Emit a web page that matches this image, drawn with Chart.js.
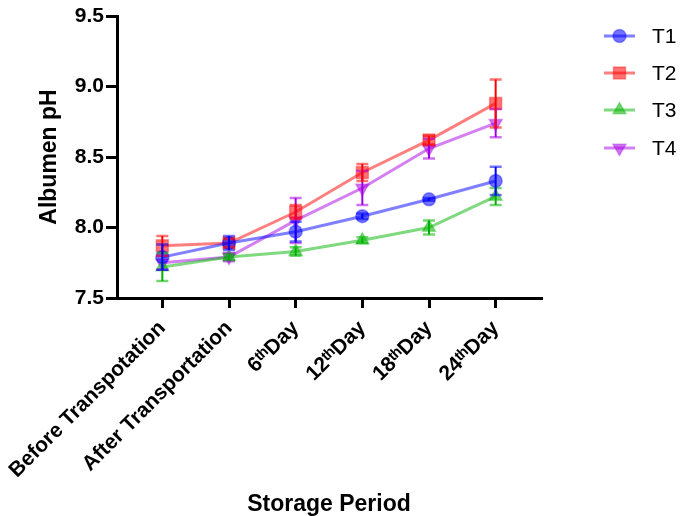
<!DOCTYPE html>
<html>
<head>
<meta charset="utf-8">
<script src="https://cdn.jsdelivr.net/npm/chart.js@4/dist/chart.umd.min.js"></script>
<style>
html,body{margin:0;padding:0;background:#fff;}
#wrap{width:686px;height:516px;}
</style>
</head>
<body>
<div id="wrap"><canvas id="c" width="686" height="516"></canvas></div>
<script>
const categories = ["Before Transpotation", "After Transportation", "6\u1d57\u02b0Day", "12\u1d57\u02b0Day", "18\u1d57\u02b0Day", "24\u1d57\u02b0Day"];
const seriesNames = ["T1", "T2", "T3", "T4"];
const t1 = [7.79, 7.89, 7.97, 8.08, 8.20, 8.33];
const t2 = [7.87, 7.89, 8.11, 8.39, 8.62, 8.88];
const t3 = [7.72, 7.79, 7.83, 7.91, 8.00, 8.22];
const t4 = [7.75, 7.79, 8.05, 8.28, 8.56, 8.74];
const t1Err = [0.09, 0.05, 0.07, 0.02, 0.01, 0.10];
const t2Err = [0.07, 0.03, 0.05, 0.06, 0.03, 0.17];
const t3Err = [0.10, 0.02, 0.03, 0.02, 0.05, 0.06];
const t4Err = [0.05, 0.03, 0.16, 0.12, 0.07, 0.10];
const yTicks = [7.5, 8.0, 8.5, 9.0, 9.5];

const FONT = "'Liberation Sans', Arial, 'DejaVu Sans', sans-serif";
const styles = [
  {rgb:[0,0,255], solid:'#0000ff', style:'circle', radius:6.5, rotation:0},
  {rgb:[255,0,0], solid:'#ff0000', style:'rect', radius:8.5, rotation:0},
  {rgb:[0,180,0], solid:'#00b000', style:'triangle', radius:7.5, rotation:0},
  {rgb:[170,0,230], solid:'#a000e0', style:'triangle', radius:7.5, rotation:180}
];
const values = [t1, t2, t3, t4];
const errors = [t1Err, t2Err, t3Err, t4Err];
const rgba = (c, a) => `rgba(${c[0]},${c[1]},${c[2]},${a})`;

const datasets = seriesNames.map((name, i) => ({
  label: name,
  data: values[i].map((v, j) => ({x: j, y: v})),
  borderColor: rgba(styles[i].rgb, 0.5),
  backgroundColor: rgba(styles[i].rgb, 0.5),
  borderWidth: 3,
  pointStyle: styles[i].style,
  pointRadius: styles[i].radius,
  pointRotation: styles[i].rotation,
  pointBackgroundColor: rgba(styles[i].rgb, 0.55),
  pointBorderColor: rgba(styles[i].rgb, 0.35),
  pointBorderWidth: 1.5,
  tension: 0,
  fill: false
}));

const errorBars = {
  id: 'errorBars',
  afterDatasetsDraw(chart) {
    const {ctx} = chart;
    const xs = chart.scales.x, ys = chart.scales.y;
    ctx.save();
    for (let i = seriesNames.length - 1; i >= 0; i--) {
      values[i].forEach((v, j) => {
        const e = errors[i][j];
        const px = xs.getPixelForValue(j);
        const top = ys.getPixelForValue(v + e);
        const bot = ys.getPixelForValue(v - e);
        ctx.strokeStyle = styles[i].solid;
        ctx.lineWidth = 2;
        ctx.beginPath(); ctx.moveTo(px, top); ctx.lineTo(px, bot); ctx.stroke();
        ctx.strokeStyle = rgba(styles[i].rgb, 0.55);
        ctx.lineWidth = 2.5;
        ctx.beginPath();
        ctx.moveTo(px - 6, top); ctx.lineTo(px + 6, top);
        ctx.moveTo(px - 6, bot); ctx.lineTo(px + 6, bot);
        ctx.stroke();
      });
    }
    ctx.restore();
  }
};

const customLegend = {
  id: 'customLegend',
  afterDraw(chart) {
    const {ctx} = chart;
    const rows = [36, 73, 110, 148];
    ctx.save();
    seriesNames.forEach((name, i) => {
      const y = rows[i];
      ctx.strokeStyle = rgba(styles[i].rgb, 0.5);
      ctx.lineWidth = 3;
      ctx.beginPath(); ctx.moveTo(604, y); ctx.lineTo(635, y); ctx.stroke();
      ctx.fillStyle = rgba(styles[i].rgb, 0.55);
      ctx.strokeStyle = rgba(styles[i].rgb, 0.35);
      ctx.lineWidth = 1.5;
      Chart.helpers.drawPoint(ctx, {pointStyle: styles[i].style, radius: styles[i].radius, rotation: styles[i].rotation, borderWidth: 1.5}, 619.5, y);
      ctx.fillStyle = '#000';
      ctx.font = `21px ${FONT}`;
      ctx.textBaseline = 'middle';
      ctx.textAlign = 'left';
      ctx.fillText(name, 652, y + 1);
    });
    ctx.restore();
  }
};

new Chart(document.getElementById('c'), {
  type: 'line',
  data: {datasets},
  plugins: [errorBars, customLegend],
  options: {
    responsive: false,
    animation: false,
    devicePixelRatio: 1,
    layout: {padding: {left: 0, top: 16, right: 145, bottom: 0}},
    plugins: {legend: {display: false}, tooltip: {enabled: false}},
    scales: {
      x: {
        type: 'linear',
        min: -0.68, max: 5.68,
        afterBuildTicks: s => { s.ticks = categories.map((c, i) => ({value: i})); },
        afterFit: s => { s.height = 218; s.paddingLeft = 0; s.paddingRight = 0; },
        ticks: {
          callback: v => categories[v],
          autoSkip: false, maxRotation: 45, minRotation: 45,
          color: '#000', padding: 8,
          font: {family: FONT, size: 21, weight: 'bold'}
        },
        grid: {drawOnChartArea: false, color: '#000', lineWidth: 3, tickLength: 10},
        border: {color: '#000', width: 3},
        title: {display: true, text: 'Storage Period', color: '#000', padding: {top: 0, bottom: -2},
          font: {family: FONT, size: 23, weight: 'bold'}}
      },
      y: {
        min: 7.5, max: 9.5,
        afterBuildTicks: s => { s.ticks = yTicks.map(v => ({value: v})); },
        afterFit: s => { s.width = 117; },
        ticks: {
          callback: v => Number(v).toFixed(1),
          color: '#000', padding: 2,
          font: {family: FONT, size: 21, weight: 'bold'}
        },
        grid: {drawOnChartArea: false, color: '#000', lineWidth: 3, tickLength: 11},
        border: {color: '#000', width: 3},
        title: {display: true, text: 'Albumen pH', color: '#000', padding: {top: 36, bottom: 0},
          font: {family: FONT, size: 23, weight: 'bold'}}
      }
    }
  }
});
</script>
</body>
</html>
